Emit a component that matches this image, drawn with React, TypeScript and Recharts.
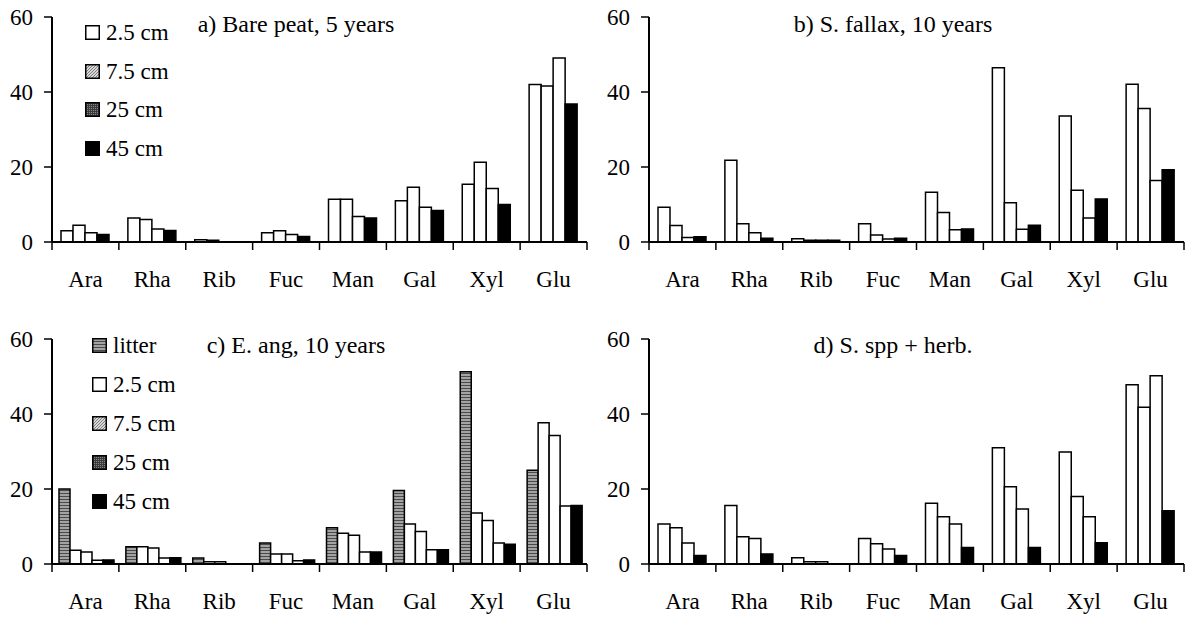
import { Bar, BarChart, XAxis, YAxis } from 'recharts';

const CATEGORIES = ['Ara', 'Rha', 'Rib', 'Fuc', 'Man', 'Gal', 'Xyl', 'Glu'];
const Y_TICKS = [0, 20, 40, 60];

// a) Bare peat, 5 years
const A_25 = [3.0, 6.4, 0.6, 2.5, 11.4, 11.0, 15.4, 42.0];
const A_75 = [4.5, 6.0, 0.5, 3.0, 11.4, 14.6, 21.3, 41.6];
const A_250 = [2.5, 3.5, 0, 2.0, 6.8, 9.3, 14.3, 49.1];
const A_450 = [2.0, 3.1, 0, 1.5, 6.4, 8.4, 10.0, 36.8];

// b) S. fallax, 10 years
const B_25 = [9.3, 21.8, 0.9, 4.9, 13.3, 46.5, 33.6, 42.1];
const B_75 = [4.4, 4.9, 0.5, 1.9, 7.9, 10.5, 13.8, 35.6];
const B_250 = [1.2, 2.5, 0.5, 0.8, 3.3, 3.4, 6.4, 16.4];
const B_450 = [1.4, 1.0, 0.5, 1.0, 3.5, 4.5, 11.5, 19.3];

// c) E. ang, 10 years
const C_LITTER = [20.0, 4.6, 1.6, 5.6, 9.7, 19.6, 51.3, 25.0];
const C_25 = [3.7, 4.6, 0.6, 2.7, 8.2, 10.7, 13.6, 37.7];
const C_75 = [3.2, 4.3, 0.6, 2.7, 7.7, 8.7, 11.6, 34.3];
const C_250 = [1.0, 1.6, 0, 0.9, 3.2, 3.8, 5.6, 15.5];
const C_450 = [1.1, 1.7, 0, 1.1, 3.2, 3.8, 5.3, 15.6];

// d) S. spp + herb.
const D_25 = [10.7, 15.6, 1.7, 6.8, 16.2, 31.0, 29.9, 47.8];
const D_75 = [9.7, 7.3, 0.6, 5.4, 12.6, 20.6, 18.0, 41.8];
const D_250 = [5.6, 6.8, 0.6, 4.0, 10.7, 14.7, 12.6, 50.2];
const D_450 = [2.3, 2.7, 0, 2.3, 4.4, 4.4, 5.7, 14.2];

const FONT = 'Liberation Serif, Tinos, Times New Roman, Times, Nimbus Roman, DejaVu Serif, serif';
const CHART_W = 597;
const CHART_H = 300;
const MARGIN = { top: 17, right: 10, bottom: 0, left: 12 };
const Y_W = 40;
const PLOT_W = CHART_W - MARGIN.left - MARGIN.right - Y_W;

type Swatch = 'white' | 'black' | 'litter' | 'hatch' | 'dots';
type Series = { key: string; name: string; values: number[]; bar: Swatch; swatch: Swatch };

const fillFor = (s: Swatch, prefix: string) => {
  if (s === 'white') return '#fff';
  if (s === 'black') return '#000';
  return `url(#${prefix}-${s})`;
};

function Patterns({ prefix }: { prefix: string }) {
  return (
    <defs>
      <pattern id={`${prefix}-litter`} width={4} height={3} patternUnits="userSpaceOnUse">
        <rect width={4} height={3} fill="#a3a3a3" />
        <rect width={4} height={1} fill="#4a4a4a" />
      </pattern>
      <pattern id={`${prefix}-hatch`} width={3} height={3} patternUnits="userSpaceOnUse">
        <rect width={3} height={3} fill="#d8d8d8" />
        <path d="M0,3 L3,0" stroke="#666" strokeWidth={0.8} />
      </pattern>
      <pattern id={`${prefix}-dots`} width={2} height={2} patternUnits="userSpaceOnUse">
        <rect width={2} height={2} fill="#3a3a3a" />
        <rect width={1} height={1} fill="#888" />
      </pattern>
    </defs>
  );
}

function CategoryTick(props: any) {
  const { x, y, payload, index } = props;
  const half = typeof payload?.offset === 'number' && payload.offset > 0 ? payload.offset : PLOT_W / CATEGORIES.length / 2;
  return (
    <g>
      <line x1={x - half} x2={x - half} y1={y} y2={y + 8} stroke="#000" strokeWidth={1.5} />
      {index === CATEGORIES.length - 1 && (
        <line x1={x + half} x2={x + half} y1={y} y2={y + 8} stroke="#000" strokeWidth={1.5} />
      )}
      <text x={x} y={y + 45} textAnchor="middle" fill="#000" fontSize={23} style={{ fontFamily: FONT }}>
        {payload.value}
      </text>
    </g>
  );
}

function LegendBox({ series, left, top, rowH, prefix }: { series: Series[]; left: number; top: number; rowH: number; prefix: string }) {
  return (
    <div style={{ position: 'absolute', left, top, fontFamily: FONT, fontSize: 23, lineHeight: '23px' }}>
      {series.map((s) => (
        <div key={s.key} style={{ height: rowH, display: 'flex', alignItems: 'center' }}>
          <svg width={15} height={15} style={{ display: 'block' }}>
            <Patterns prefix={`${prefix}-lg`} />
            <rect x={0.75} y={0.75} width={13.5} height={13.5} fill={fillFor(s.swatch, `${prefix}-lg`)} stroke="#000" strokeWidth={1.5} />
          </svg>
          <span style={{ marginLeft: 6, whiteSpace: 'nowrap' }}>{s.name}</span>
        </div>
      ))}
    </div>
  );
}

function Panel({
  id,
  left,
  top,
  title,
  titleTop,
  series,
  gap,
  legend,
}: {
  id: string;
  left: number;
  top: number;
  title: string;
  titleTop: number;
  series: Series[];
  gap: number;
  legend?: { left: number; top: number; rowH: number };
}) {
  const data = CATEGORIES.map((cat, i) => {
    const row: Record<string, string | number> = { cat };
    series.forEach((s) => (row[s.key] = s.values[i]));
    return row;
  });
  return (
    <div style={{ position: 'absolute', left, top, width: CHART_W, height: CHART_H }}>
      <BarChart width={CHART_W} height={CHART_H} data={data} margin={MARGIN} barGap={0} barCategoryGap={gap}
        style={{ fontFamily: FONT }}>
        <Patterns prefix={id} />
        <XAxis
          dataKey="cat"
          height={58}
          interval={0}
          tickSize={0}
          tickMargin={0}
          tickLine={false}
          axisLine={{ stroke: '#000', strokeWidth: 2 }}
          tick={<CategoryTick />}
        />
        <YAxis
          width={Y_W}
          domain={[0, 60]}
          ticks={Y_TICKS}
          interval={0}
          tickSize={8}
          tickMargin={11}
          axisLine={{ stroke: '#000', strokeWidth: 2 }}
          tickLine={{ stroke: '#000', strokeWidth: 1.5 }}
          tick={{ fill: '#000', fontSize: 23, style: { fontFamily: FONT } }}
        />
        {series.map((s) => (
          <Bar
            key={s.key}
            dataKey={s.key}
            name={s.name}
            fill={fillFor(s.bar, id)}
            stroke="#000"
            strokeWidth={1.5}
            isAnimationActive={false}
          />
        ))}
      </BarChart>
      <div
        style={{
          position: 'absolute',
          left: 96,
          width: 400,
          top: titleTop,
          textAlign: 'center',
          fontFamily: FONT,
          fontSize: 24,
          lineHeight: '24px',
          whiteSpace: 'nowrap',
        }}
      >
        {title}
      </div>
      {legend && <LegendBox series={series} left={legend.left} top={legend.top} rowH={legend.rowH} prefix={id} />}
    </div>
  );
}

const depthSeries = (v25: number[], v75: number[], v250: number[], v450: number[]): Series[] => [
  { key: 'd25', name: '2.5 cm', values: v25, bar: 'white', swatch: 'white' },
  { key: 'd75', name: '7.5 cm', values: v75, bar: 'white', swatch: 'hatch' },
  { key: 'd250', name: '25 cm', values: v250, bar: 'white', swatch: 'dots' },
  { key: 'd450', name: '45 cm', values: v450, bar: 'black', swatch: 'black' },
];

export default function App() {
  const seriesA = depthSeries(A_25, A_75, A_250, A_450);
  const seriesB = depthSeries(B_25, B_75, B_250, B_450);
  const seriesC: Series[] = [
    { key: 'litter', name: 'litter', values: C_LITTER, bar: 'litter', swatch: 'litter' },
    ...depthSeries(C_25, C_75, C_250, C_450),
  ];
  const seriesD = depthSeries(D_25, D_75, D_250, D_450);
  return (
    <div style={{ position: 'absolute', left: 0, top: 0, width: 1192, height: 618, overflow: 'hidden', background: '#fff', fontFamily: FONT }}>
      <Panel id="pa" left={0} top={0} title="a) Bare peat, 5 years" titleTop={12} series={seriesA} gap={9}
        legend={{ left: 85, top: 13, rowH: 38.8 }} />
      <Panel id="pb" left={597} top={0} title="b) S. fallax, 10 years" titleTop={12} series={seriesB} gap={9} />
      <Panel id="pc" left={0} top={322} title="c) E. ang, 10 years" titleTop={11} series={seriesC} gap={7}
        legend={{ left: 92, top: 3.5, rowH: 39 }} />
      <Panel id="pd" left={597} top={322} title="d) S. spp + herb." titleTop={11} series={seriesD} gap={9} />
    </div>
  );
}
